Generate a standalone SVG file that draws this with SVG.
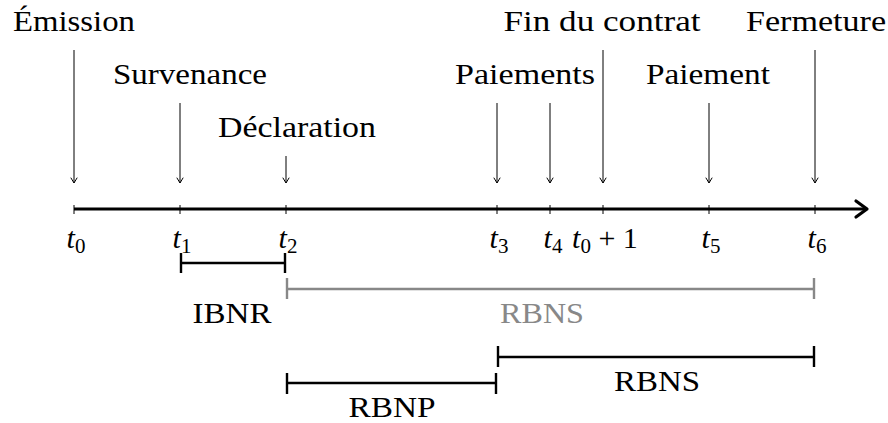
<svg xmlns="http://www.w3.org/2000/svg" width="888" height="423" viewBox="0 0 888 423">
  <style>
    text { font-family: "Liberation Serif", "Times New Roman", Tinos, "Noto Serif", "DejaVu Serif", FreeSerif, "Latin Modern Roman", serif; font-size: 30px; fill: #000; }
    .lbl { text-anchor: middle; }
    .t { text-anchor: middle; }
    .it { font-style: italic; }
    .sub { font-size: 21px; }
    .gray { fill: #888; }
    .evt { stroke: #000; stroke-width: 1; fill: none; }
    .head { stroke: #000; stroke-width: 1; fill: none; stroke-linecap: round; stroke-linejoin: round; }
    .axis { stroke: #000; stroke-width: 3; fill: none; }
    .tick { stroke: #000; stroke-width: 1; }
    .span { stroke: #000; stroke-width: 2.4; fill: none; }
    .span-g { stroke: #888; stroke-width: 2.4; fill: none; }
  </style>
  <defs>
    <!-- small open arrowhead for the event arrows -->
    <marker id="evtHead" markerWidth="10" markerHeight="10" refX="5" refY="7" markerUnits="userSpaceOnUse" orient="0">
      <path class="head" d="M2,2 L5,7 L8,2"/>
    </marker>
  </defs>

  <!-- time axis -->
  <g id="axis">
    <line class="axis" x1="74" y1="209" x2="866" y2="209"/>
    <path d="M856,201 L867,209 L856,217" stroke="#000" stroke-width="3.2" fill="none" stroke-linecap="round" stroke-linejoin="round"/>
    <g class="tick">
      <line x1="74" y1="205" x2="74" y2="214"/>
      <line x1="180" y1="205" x2="180" y2="214"/>
      <line x1="286" y1="205" x2="286" y2="214"/>
      <line x1="497" y1="205" x2="497" y2="214"/>
      <line x1="550" y1="205" x2="550" y2="214"/>
      <line x1="603" y1="205" x2="603" y2="214"/>
      <line x1="709" y1="205" x2="709" y2="214"/>
      <line x1="815" y1="205" x2="815" y2="214"/>
    </g>
  </g>

  <!-- tick labels -->
  <g id="t0"><text class="t" x="76" y="248"><tspan class="it">t</tspan><tspan class="sub" dy="5">0</tspan></text></g>
  <g id="t1"><text class="t" x="182" y="248"><tspan class="it">t</tspan><tspan class="sub" dy="5">1</tspan></text></g>
  <g id="t2"><text class="t" x="288" y="248"><tspan class="it">t</tspan><tspan class="sub" dy="5">2</tspan></text></g>
  <g id="t3"><text class="t" x="499" y="248"><tspan class="it">t</tspan><tspan class="sub" dy="5">3</tspan></text></g>
  <g id="t4"><text class="t" x="553" y="248"><tspan class="it">t</tspan><tspan class="sub" dy="5">4</tspan></text></g>
  <g id="t0p1"><text class="t" x="605" y="248"><tspan class="it">t</tspan><tspan class="sub" dy="5">0</tspan><tspan dy="-5"> + 1</tspan></text></g>
  <g id="t5"><text class="t" x="711" y="248"><tspan class="it">t</tspan><tspan class="sub" dy="5">5</tspan></text></g>
  <g id="t6"><text class="t" x="817" y="248"><tspan class="it">t</tspan><tspan class="sub" dy="5">6</tspan></text></g>

  <!-- events with their arrows -->
  <g id="emission">
    <text class="lbl" x="74" y="31" textLength="122" lengthAdjust="spacingAndGlyphs">Émission</text>
  </g>
  <g id="survenance">
    <text class="lbl" x="190" y="84" textLength="154" lengthAdjust="spacingAndGlyphs">Survenance</text>
  </g>
  <g id="declaration">
    <text class="lbl" x="297" y="137" textLength="158" lengthAdjust="spacingAndGlyphs">Déclaration</text>
  </g>
  <g id="paiements">
    <text class="lbl" x="525" y="84" textLength="140" lengthAdjust="spacingAndGlyphs">Paiements</text>
  </g>
  <g id="fin-contrat">
    <text class="lbl" x="602" y="31" textLength="197" lengthAdjust="spacingAndGlyphs">Fin du contrat</text>
  </g>
  <g id="paiement">
    <text class="lbl" x="708" y="84" textLength="124" lengthAdjust="spacingAndGlyphs">Paiement</text>
  </g>
  <g id="fermeture">
    <text class="lbl" x="816" y="31" textLength="140" lengthAdjust="spacingAndGlyphs">Fermeture</text>
  </g>

  <g id="connectors">
    <line class="evt" x1="74" y1="50" x2="74" y2="183" marker-end="url(#evtHead)"/>
    <line class="evt" x1="180" y1="103" x2="180" y2="183" marker-end="url(#evtHead)"/>
    <line class="evt" x1="286" y1="156" x2="286" y2="183" marker-end="url(#evtHead)"/>
    <line class="evt" x1="497" y1="103" x2="497" y2="183" marker-end="url(#evtHead)"/>
    <line class="evt" x1="550" y1="103" x2="550" y2="183" marker-end="url(#evtHead)"/>
    <line class="evt" x1="603" y1="50" x2="603" y2="183" marker-end="url(#evtHead)"/>
    <line class="evt" x1="709" y1="103" x2="709" y2="183" marker-end="url(#evtHead)"/>
    <line class="evt" x1="815" y1="50" x2="815" y2="183" marker-end="url(#evtHead)"/>
  </g>

  <!-- reserve periods -->
  <g id="ibnr">
    <path class="span" d="M181,253 V273 M181,263 H285 M285,253 V273"/>
    <text class="lbl" x="232" y="323" textLength="79" lengthAdjust="spacingAndGlyphs">IBNR</text>
  </g>
  <g id="rbns-total">
    <path class="span-g" d="M287,278 V299 M287,289 H814 M814,278 V299"/>
    <text class="lbl gray" x="542" y="323" textLength="84" lengthAdjust="spacingAndGlyphs">RBNS</text>
  </g>
  <g id="rbns">
    <path class="span" d="M498,346 V367 M498,357 H814 M814,346 V367"/>
    <text class="lbl" x="657" y="391" textLength="86" lengthAdjust="spacingAndGlyphs">RBNS</text>
  </g>
  <g id="rbnp">
    <path class="span" d="M287,373 V394 M287,383 H496 M496,373 V394"/>
    <text class="lbl" x="392" y="417" textLength="87" lengthAdjust="spacingAndGlyphs">RBNP</text>
  </g>
</svg>
